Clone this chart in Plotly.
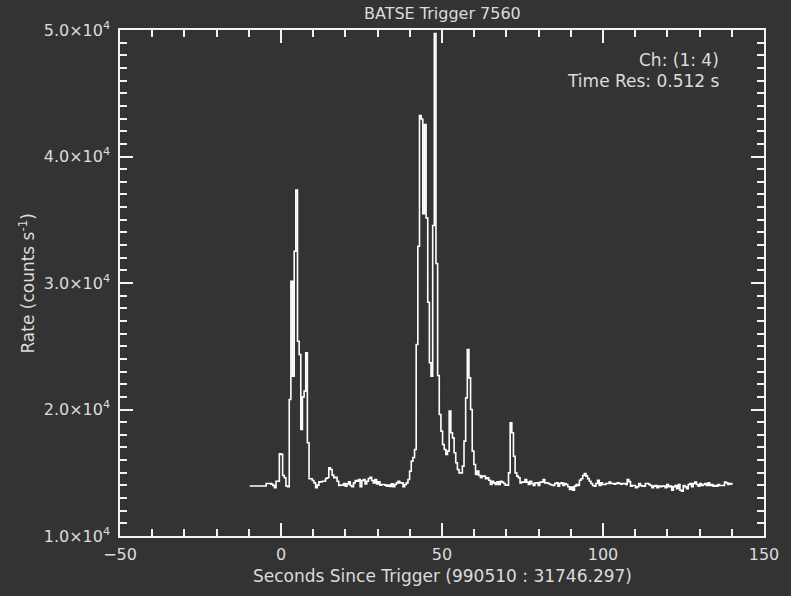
import numpy as np
import plotly.graph_objects as go

# ---- data ----
t_start = -9.728          # start time of first bin (s)
time_res = 0.512          # bin width (s)

rates = [
    13950, 13950, 13950, 13950, 13950, 13950, 13950, 13950, 13950, 13950,
    14150, 14150, 14150, 14100, 14000, 13810, 14330, 14330, 16500, 16450,
    14780, 14600, 13950, 13900, 20790, 30140, 22630, 32510, 37340, 25400,
    24350, 18420, 21000, 21450, 24480, 17370, 14520, 14520, 14390, 14200,
    13810, 14020, 14280, 14280, 14330, 14330, 14550, 14600, 15390, 15260,
    14810, 14600, 14650, 14330, 13990, 14020, 14020, 14150, 13940, 14120,
    14280, 13990, 13890, 14200, 14390, 14330, 14470, 13890, 14390, 14470,
    14120, 14330, 14550, 14650, 14390, 14200, 14470, 14120, 14280, 14020,
    14070, 14070, 14020, 13940, 14020, 13910, 14120, 13890, 14070, 14200,
    14330, 14200, 14200, 13890, 14070, 14200, 14470, 15130, 15920, 16200,
    16840, 25140, 32910, 43240, 42970, 35470, 42530, 35150, 28480, 23690,
    22630, 34550, 49720, 31540, 22690, 19600, 18290, 17230, 16840, 16440,
    16710, 19870, 18160, 17760, 16580, 15790, 15260, 14990, 14990, 15520,
    17500, 20920, 24740, 22500, 20000, 16710, 15650, 14860, 15130, 14780,
    14600, 14730, 14730, 14520, 14600, 14410, 14070, 14330, 14200, 14070,
    14280, 14070, 14330, 14260, 14150, 14020, 14020, 14990, 18950, 18160,
    16310, 14990, 14730, 14600, 14200, 14260, 14260, 14470, 14260, 14070,
    14330, 14150, 13990, 14200, 14200, 13990, 14260, 14260, 14470, 14200,
    14200, 14150, 14070, 14030, 13990, 14150, 14200, 13940, 14150, 14200,
    13990, 14150, 14070, 13890, 13680, 13860, 13620, 13940, 14070, 13990,
    14410, 14520, 14780, 14940, 14730, 14520, 14330, 14150, 13990, 13940,
    14150, 14410, 13990, 14200, 14070, 14070, 14150, 14150, 14260, 14150,
    14150, 14100, 14150, 14200, 14150, 14100, 14150, 14150, 14070, 14470,
    14300, 13940, 13990, 13990, 13810, 13890, 14150, 13990, 13940, 13940,
    14150, 14150, 14070, 13990, 13810, 13940, 13990, 13810, 13940, 13890,
    13940, 13940, 13810, 14070, 13890, 13940, 13620, 13890, 13990, 13730,
    14070, 13620, 13540, 13990, 13890, 13730, 14070, 14150, 13890, 14150,
    14260, 14070, 13940, 14150, 13990, 14070, 14150, 13990, 14200, 13990,
    14070, 13940, 13990, 13940, 14070, 13990, 13990, 13990, 14260, 14200,
    14070, 14150, 14120,
]

x_tickvals = [-50, 0, 50, 100, 150]
x_ticktext = ["\u221250", "0", "50", "100", "150"]
y_tickvals = [10000, 20000, 30000, 40000, 50000]
y_ticktext = ["1.0\u00d710<sup>4</sup>", "2.0\u00d710<sup>4</sup>", "3.0\u00d710<sup>4</sup>",
              "4.0\u00d710<sup>4</sup>", "5.0\u00d710<sup>4</sup>"]

title_text = "BATSE Trigger 7560"
x_title = "Seconds Since Trigger (990510 : 31746.297)"
y_title = "Rate (counts s<sup>-1</sup>)"
info_lines = ["Ch: (1: 4)", "Time Res: 0.512 s"]

# ---- figure ----
times = t_start + time_res * np.arange(len(rates))
xs = list(times) + [times[-1] + time_res]
ys = list(rates) + [rates[-1]]

BG = "#333333"
FG = "#dcdcdc"
LINE = "#f2f2f2"
FONT = "DejaVu Sans"

fig = go.Figure()
fig.add_trace(go.Scatter(
    x=xs, y=ys, mode="lines",
    line=dict(color="white", width=1.6, shape="hv"),
    hoverinfo="skip", showlegend=False,
))

axis_common = dict(
    showgrid=False, zeroline=False, showline=True, linecolor=LINE, linewidth=1.5,
    mirror="allticks", ticks="inside", tickcolor=LINE, tickwidth=1.5, ticklen=13,
    tickfont=dict(family=FONT, size=16, color=FG),
)

fig.update_xaxes(
    range=[-50, 150], tickmode="array", tickvals=x_tickvals, ticktext=x_ticktext,
    minor=dict(ticks="inside", dtick=10, tick0=0, ticklen=7, tickcolor=LINE, tickwidth=1.5),
    ticklabelstandoff=3,
    **axis_common,
)
fig.update_yaxes(
    range=[10000, 50000], tickmode="array", tickvals=y_tickvals, ticktext=y_ticktext,
    minor=dict(ticks="inside", dtick=1000, tick0=0, ticklen=7, tickcolor=LINE, tickwidth=1.5),
    ticklabelstandoff=5,
    **axis_common,
)

annotations = [
    dict(text=title_text, x=0.5, y=1.0325, xref="paper", yref="paper",
         xanchor="center", yanchor="middle", showarrow=False,
         font=dict(family=FONT, size=16, color=FG)),
    dict(text=x_title, x=0.5, y=-0.08, xref="paper", yref="paper",
         xanchor="center", yanchor="middle", showarrow=False,
         font=dict(family=FONT, size=17, color=FG)),
    dict(text=y_title, x=-0.145, y=0.50, xref="paper", yref="paper",
         xanchor="center", yanchor="middle", textangle=-90, showarrow=False,
         font=dict(family=FONT, size=17, color=FG)),
    dict(text=info_lines[0], x=0.933, y=0.940, xref="paper", yref="paper",
         xanchor="right", yanchor="middle", showarrow=False,
         font=dict(family=FONT, size=17, color=FG)),
    dict(text=info_lines[1], x=0.935, y=0.900, xref="paper", yref="paper",
         xanchor="right", yanchor="middle", showarrow=False,
         font=dict(family=FONT, size=17, color=FG)),
]

fig.update_layout(
    width=791, height=596,
    margin=dict(l=120, r=25, t=30, b=60),
    paper_bgcolor=BG, plot_bgcolor=BG,
    annotations=annotations,
    showlegend=False,
)

fig.write_html("out.html", config={"displayModeBar": False})
